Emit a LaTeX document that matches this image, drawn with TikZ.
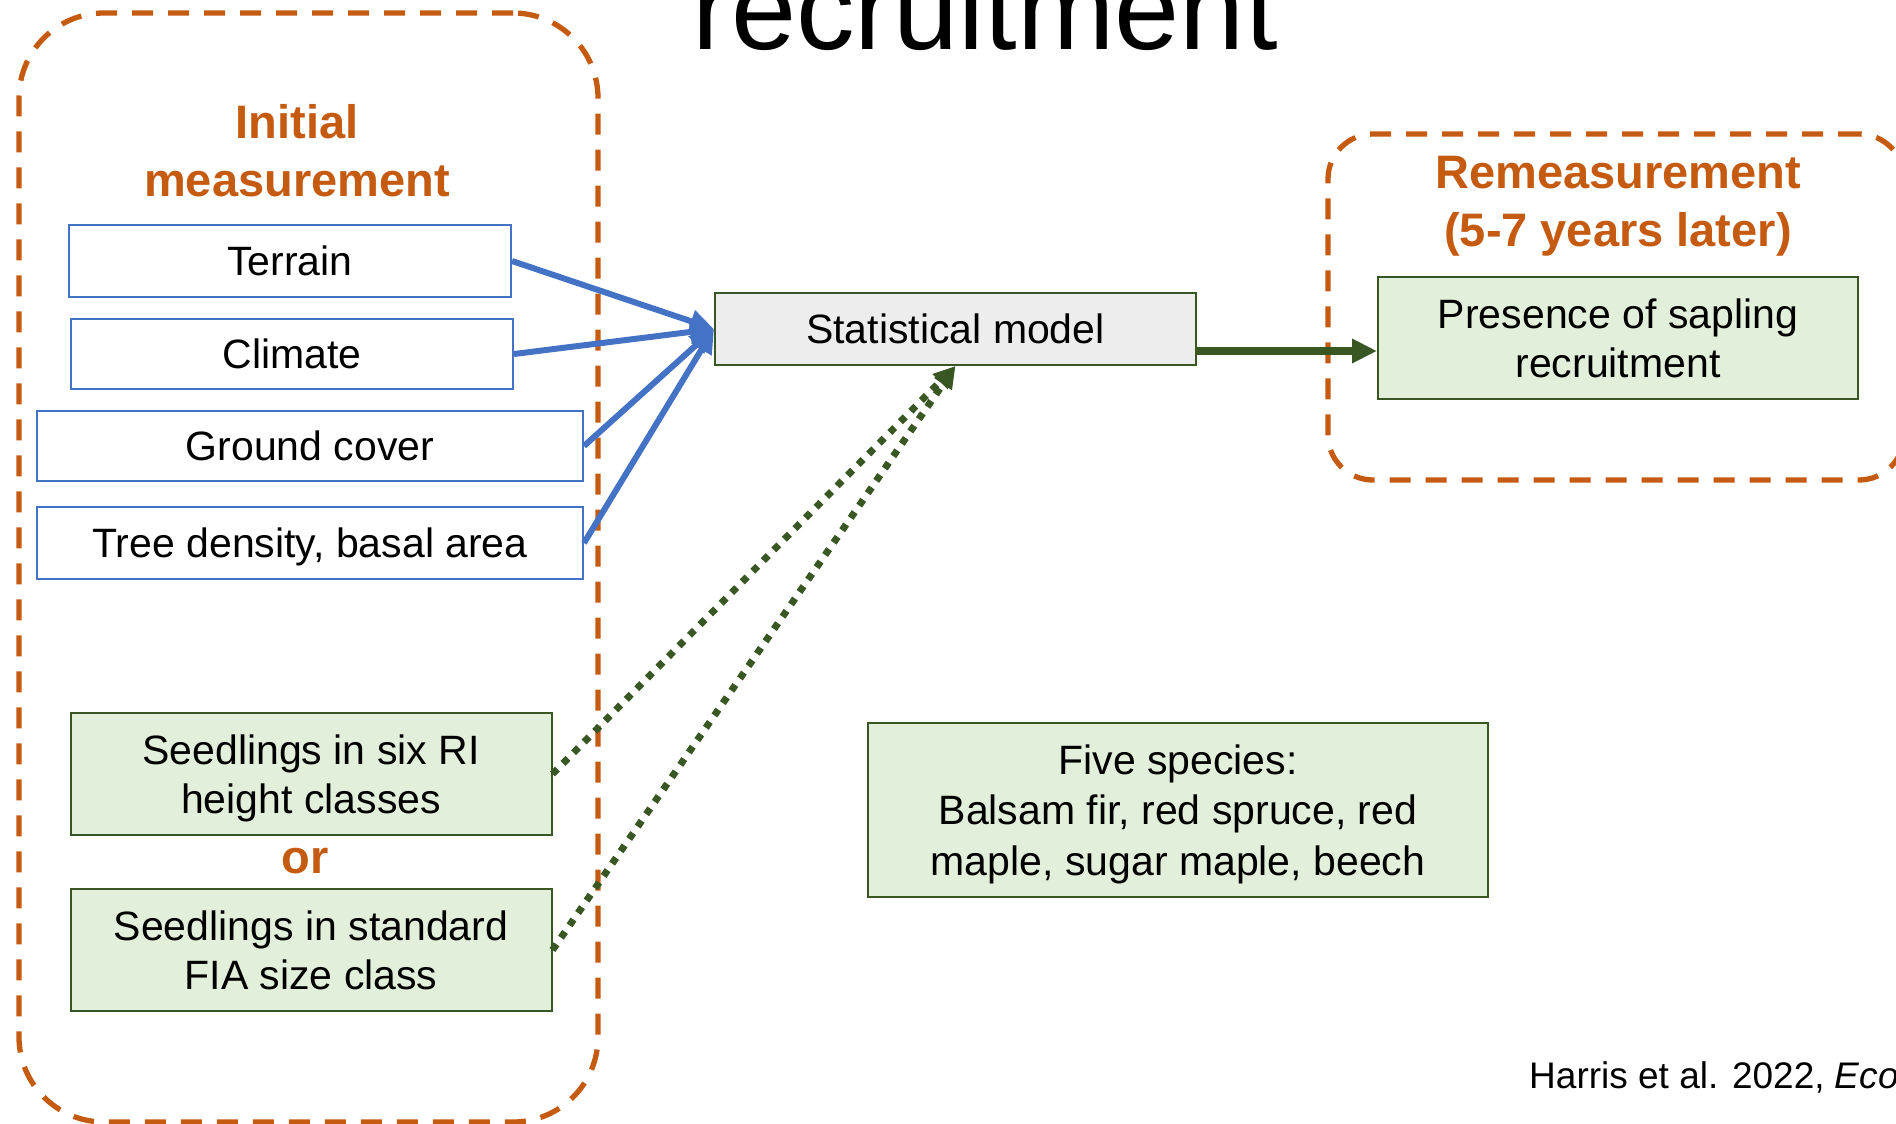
\documentclass[tikz,border=0pt]{standalone}
\usepackage{fontspec}
\setmainfont{Liberation Sans}
\usetikzlibrary{arrows.meta}

\definecolor{accorange}{HTML}{C55A11}
\definecolor{accblue}{HTML}{4472C4}
\definecolor{darkgreen}{HTML}{385723}
\definecolor{palegreen}{HTML}{E2EFDA}
\definecolor{palegray}{HTML}{EDEDED}

\newcommand\boxfont{\fontsize{41}{49.5}\selectfont}
\newcommand\widefont{\fontsize{41}{50.5}\selectfont}
\newcommand\headfont{\fontsize{47}{58}\selectfont\bfseries}

\tikzset{
  groupbox/.style={draw=accorange, line width=5.3pt, dash pattern=on 21pt off 15pt, inner sep=0pt},
  headline/.style={text=accorange, font=\headfont, align=center, inner sep=0pt},
  factorbox/.style={draw=accblue, line width=2pt, fill=white, inner sep=0pt, text depth=0pt, font=\boxfont, align=center},
  seedbox/.style={draw=darkgreen, line width=2pt, fill=palegreen, inner sep=0pt, text depth=0pt, font=\boxfont, align=center},
  modelbox/.style={draw=darkgreen, line width=2pt, fill=palegray, inner sep=0pt, text depth=0pt, font=\boxfont, align=center},
  bluearrow/.style={draw=accblue, line width=6pt, -{Triangle[length=24pt,width=22pt]}},
  greenarrow/.style={draw=darkgreen, line width=7.5pt, -{Triangle[length=25pt,width=23pt]}},
  dotarrow/.style={draw=darkgreen, line width=7pt, line cap=butt, dash pattern=on 7pt off 8pt, -{Triangle[length=22pt,width=20pt]}},
}

\begin{document}
\begin{tikzpicture}[x=1pt,y=-1pt]
  \useasboundingbox (0,0) rectangle (1896,1124);
  \clip (0,0) rectangle (1896,1124);
  \fill[white] (0,0) rectangle (1896,1124);

  % title line, cut by the top edge
  \node[anchor=base, inner sep=0pt, font=\fontsize{117}{140}\selectfont] (title) at (985,50) {recruitment};

  % measurement groups
  \node[groupbox, rounded corners=85pt, minimum width=579pt, minimum height=1109pt] (initial) at (308.5,567.5) {};
  \node[groupbox, rounded corners=45pt, minimum width=576pt, minimum height=346pt] (remeas) at (1616,307) {};

  \node[headline] (initlabel) at (297,151) {Initial\\measurement};
  \node[headline] (remlabel) at (1618,206) {Remeasurement\\(5-7 years later)};

  % predictors
  \node[factorbox, minimum width=442pt, minimum height=72pt] (terrain) at (290,261) {Terrain};
  \node[factorbox, minimum width=442pt, minimum height=70pt] (climate) at (292,354) {Climate};
  \node[factorbox, minimum width=546pt, minimum height=70pt] (ground) at (310,446) {Ground cover};
  \node[factorbox, minimum width=546pt, minimum height=72pt] (tree) at (310,543) {Tree density, basal area};

  \node[seedbox, minimum width=481pt, minimum height=122pt] (six) at (311,774) {Seedlings in six RI\\height classes};
  \node[anchor=base, inner sep=0pt, text=accorange, font=\headfont] (orlabel) at (305,873) {or};
  \node[seedbox, minimum width=481pt, minimum height=122pt] (fia) at (311,950) {Seedlings in standard\\FIA size class};

  % model and response
  \node[modelbox, minimum width=481pt, minimum height=72pt] (model) at (955.5,329) {Statistical model};
  \node[seedbox, minimum width=480pt, minimum height=122pt] (pres) at (1618,338) {Presence of sapling\\recruitment};

  \node[seedbox, font=\widefont, minimum width=620pt, minimum height=174pt] (species) at (1178,810) {Five species:\\Balsam fir, red spruce, red\\maple, sugar maple, beech};

  % citation
  \node[anchor=base west, inner sep=0pt, font=\fontsize{37}{44}\selectfont] (cite) at (1529,1088) {Harris et al. 2022, \textit{Eco}};

  % connectors
  \draw[bluearrow] (terrain.east) -- (model.west);
  \draw[bluearrow] (climate.east) -- (model.west);
  \draw[bluearrow] (ground.east) -- (model.west);
  \draw[bluearrow] (tree.east) -- (model.west);

  \draw[dotarrow] (six.east) -- (model.south);
  \draw[dotarrow] (fia.east) -- (model.south);

  \draw[greenarrow] ([yshift=-22pt]model.east) coordinate (mout) -- (mout -| pres.west);
\end{tikzpicture}
\end{document}
